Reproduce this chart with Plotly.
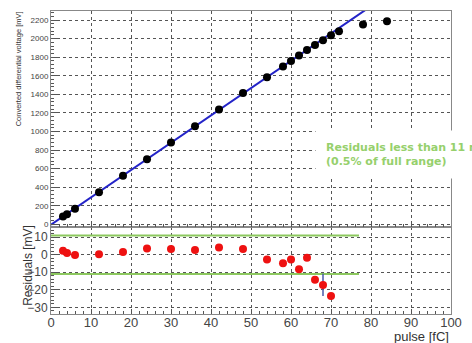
import plotly.graph_objects as go

# Calibration scan: injected charge vs converted differential voltage
pulse_fc = [3, 4, 6, 12, 18, 24, 30, 36, 42, 48, 54, 58, 60, 62, 64, 66, 68, 70, 72, 78, 84]
voltage_mv = [86, 110, 168, 345, 523, 701, 882, 1057, 1237, 1414, 1583, 1699, 1760, 1818,
              1878, 1931, 1981, 2035, 2078, 2153, 2188]

# Linear fit drawn across the scan
fit_x = [0, 80]
fit_y = [-3, 2349]

# Fit residuals over the fitted range
res_x = [3, 4, 6, 12, 18, 24, 30, 36, 42, 48, 54, 58, 60, 62, 64, 66, 68, 70]
res_mv = [2.2, 1.0, -0.2, 0.3, 1.5, 3.6, 3.2, 2.7, 4.1, 3.3, -2.7, -4.8, -2.7, -8.3,
          -1.7, -14.3, -17.2, -23.5]
res_err = [1, 1, 1, 1, 1, 1, 1, 1, 1, 1, 1, 1, 1, 1, 1, 1, 6.3, 1]

# +/- 11 mV tolerance band
band_x = [0, 77]
band_hi = [11, 11]
band_lo = [-11, -11]

GREEN = "#8cc85e"
GRID = dict(showgrid=True, gridcolor="#555", griddash="dot", gridwidth=1)
FRAME = dict(showline=True, linecolor="#888", linewidth=1, mirror=True, zeroline=False)

fig = go.Figure()

# upper panel
fig.add_trace(go.Scatter(x=fit_x, y=fit_y, mode="lines", xaxis="x2", yaxis="y2",
                         line=dict(color="#2323c8", width=2), showlegend=False))
fig.add_trace(go.Scatter(x=pulse_fc, y=voltage_mv, mode="markers", xaxis="x2", yaxis="y2",
                         marker=dict(color="black", size=8), showlegend=False))

# lower panel
for yy in (band_hi, band_lo):
    fig.add_trace(go.Scatter(x=band_x, y=yy, mode="lines", xaxis="x", yaxis="y",
                             line=dict(color=GREEN, width=2), showlegend=False))
fig.add_trace(go.Scatter(x=res_x, y=res_mv, mode="markers", xaxis="x", yaxis="y",
                         marker=dict(color="#ee1111", size=8),
                         error_y=dict(type="data", array=res_err, color="#4858a8",
                                      thickness=1.5, width=0),
                         showlegend=False))

split = 0.286

fig.update_layout(
    width=472, height=343,
    margin=dict(l=51, r=11, t=10, b=29),
    paper_bgcolor="white", plot_bgcolor="white",
    font=dict(family="Liberation Sans, Arial, sans-serif", color="#333"),
    xaxis=dict(domain=[0, 1], range=[0, 100], anchor="y", tickmode="linear", tick0=0, dtick=10,
               ticks="inside", ticklen=5, tickcolor="#555", ticklabelstandoff=-4,
               minor=dict(dtick=2, ticks="inside", ticklen=3, tickcolor="#555", showgrid=False),
               tickfont=dict(size=13, color="#444"),
               **GRID, **FRAME),
    yaxis=dict(domain=[0, split], range=[-33.8, 15.6], anchor="x", tickmode="array",
               tickvals=[-30, -20, -10, 0, 10],
               ticks="inside", ticklen=6, tickcolor="#555",
               minor=dict(dtick=2, ticks="inside", ticklen=3, tickcolor="#555", showgrid=False),
               tickfont=dict(size=12, color="#444"),
               **GRID, **FRAME),
    xaxis2=dict(domain=[0, 1], range=[0, 100], anchor="y2", tickmode="linear", tick0=0, dtick=10,
                showticklabels=False, ticks="inside", ticklen=5, tickcolor="#555",
                minor=dict(dtick=2, ticks="inside", ticklen=3, tickcolor="#555", showgrid=False),
                **GRID, **FRAME),
    yaxis2=dict(domain=[split, 1], range=[-32, 2297], anchor="x2", tickmode="linear", tick0=0, dtick=200,
                ticks="inside", ticklen=6, tickcolor="#555",
                minor=dict(dtick=40, ticks="inside", ticklen=3, tickcolor="#555", showgrid=False),
                tickfont=dict(size=8, color="#444"),
                **GRID, **FRAME),
)

# axis titles, aligned to the axis ends
fig.add_annotation(x=-0.0805, y=0.81, xref="paper", yref="paper", textangle=-90,
                   showarrow=False, xanchor="center", yanchor="middle",
                   text="Converted differential voltage [mV]",
                   font=dict(size=7.5, color="#333"))
fig.add_annotation(x=-0.056, y=0.161, xref="paper", yref="paper", textangle=-90,
                   showarrow=False, xanchor="center", yanchor="middle",
                   text="Residuals [mV]", font=dict(size=12, color="#333"))
fig.add_annotation(x=1.0, y=-0.075, xref="paper", yref="paper", xanchor="right", yanchor="middle",
                   showarrow=False, text="pulse [fC]", font=dict(size=13, color="#333"))

# tolerance note on a white box
fig.add_annotation(x=0.66, y=0.525, xref="paper", yref="paper", xanchor="left", yanchor="middle",
                   align="left", showarrow=False, bgcolor="white", borderpad=10,
                   text="<b>Residuals less than 11 mV</b><br><b>(0.5% of full range)</b>",
                   font=dict(family="DejaVu Sans, Verdana, sans-serif", size=11, color="#96d06c"))

fig.write_html("out.html")
